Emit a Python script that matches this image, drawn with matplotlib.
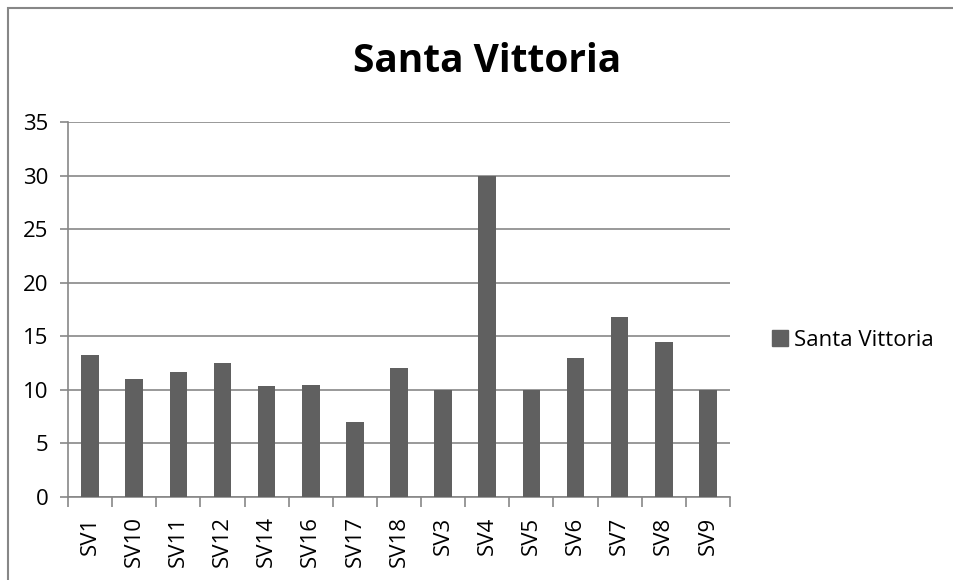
import numpy as np
import matplotlib
matplotlib.use("Agg")
import matplotlib.pyplot as plt
from matplotlib.patches import Rectangle, Patch

# Datos
categorias = ["SV1", "SV10", "SV11", "SV12", "SV14", "SV16", "SV17", "SV18",
              "SV3", "SV4", "SV5", "SV6", "SV7", "SV8", "SV9"]
valores = [13.3, 11.0, 11.7, 12.5, 10.4, 10.5, 7.0, 12.0,
           10.0, 30.0, 10.0, 13.0, 16.8, 14.5, 10.0]
ticks_y = [0, 5, 10, 15, 20, 25, 30, 35]
serie = "Santa Vittoria"

plt.rcParams['font.family'] = ['Open Sans', 'DejaVu Sans']
gris = "#878787"
color_barra = "#606060"

fig = plt.figure(figsize=(9.54, 5.8), dpi=100)
W, H = 954, 580

# borde del area del grafico
fig.patches.append(Rectangle((8 / W, -0.1), 1.2, 1 - 8 / H + 0.1,
                             transform=fig.transFigure, fill=False,
                             edgecolor=gris, linewidth=1.5))

ax = fig.add_axes([68 / W, 1 - 497 / H, (730 - 68) / W, (497 - 122) / H])
x = np.arange(len(categorias))
ax.bar(x, valores, width=0.4, color=color_barra, zorder=3)

ax.set_xlim(-0.5, len(categorias) - 0.5)
ax.set_ylim(0, 35)
ax.set_yticks(ticks_y)
ax.set_yticklabels([str(t) for t in ticks_y], fontsize=16)
ax.yaxis.grid(True, color=gris, linewidth=1.2, zorder=0)
ax.tick_params(axis='y', length=6, width=1.2, color=gris, pad=8)

# ticks en los limites de categoria, etiquetas en el centro
ax.set_xticks(np.arange(-0.5, len(categorias)), labels=[])
ax.set_xticks(x, labels=categorias, minor=True)
ax.tick_params(axis='x', which='major', length=7, width=1.2, color=gris)
ax.tick_params(axis='x', which='minor', length=0, pad=14, labelsize=16,
               labelrotation=90)

for s in ["top", "right"]:
    ax.spines[s].set_visible(False)
for s in ["left", "bottom"]:
    ax.spines[s].set_color(gris)
    ax.spines[s].set_linewidth(1.2)

fig.text(487 / W, 1 - 62 / H, "Santa Vittoria", ha='center', va='center',
         fontsize=28, fontweight='bold')

fig.legend(handles=[Patch(color=color_barra, label=serie)],
           loc='center left', bbox_to_anchor=(772 / W, 1 - 340 / H),
           frameon=False, fontsize=16, handlelength=0.7, handleheight=0.7,
           handletextpad=0.3, borderpad=0, borderaxespad=0)

fig.savefig("out.png", dpi=100)
